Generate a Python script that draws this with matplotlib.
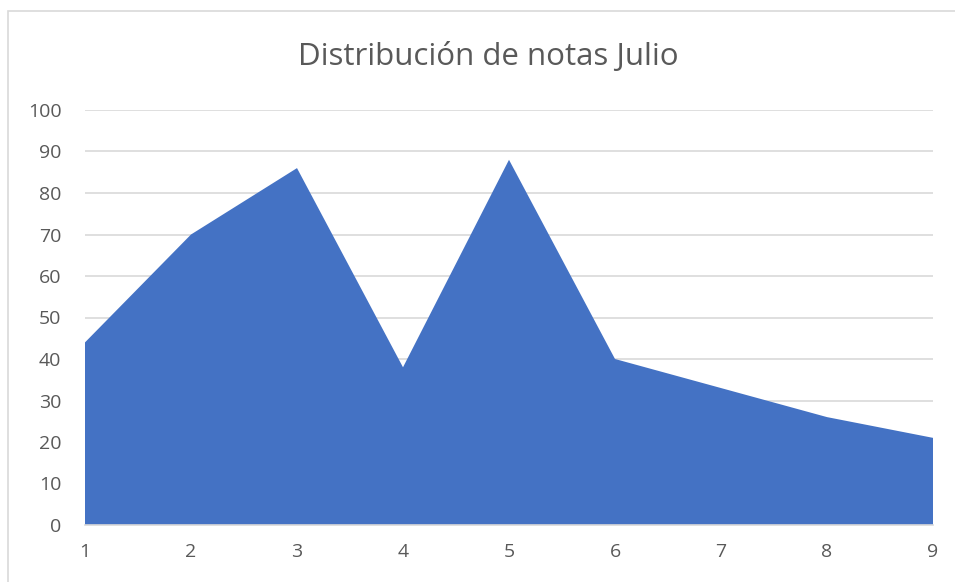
import numpy as np
import matplotlib.pyplot as plt
import matplotlib
from matplotlib.patches import Rectangle

matplotlib.rcParams['font.family'] = ['Open Sans', 'DejaVu Sans']

# datos de la gráfica
notas = [1, 2, 3, 4, 5, 6, 7, 8, 9]
cantidad = [44, 70, 86, 38, 88, 40, 33, 26, 21]
y_ticks = [0, 10, 20, 30, 40, 50, 60, 70, 80, 90, 100]

azul = '#4472C4'
gris_texto = '#595959'
gris_linea = '#D9D9D9'

fig = plt.figure(figsize=(9.55, 5.82), dpi=100, facecolor='white')
ax = fig.add_axes([85/955, 1-525/582, (933-85)/955, (525-110)/582])

ax.fill_between(notas, cantidad, 0, facecolor=azul, linewidth=0, zorder=2)

ax.set_xlim(notas[0], notas[-1])
ax.set_ylim(0, 100)
ax.set_xticks(notas)
ax.set_yticks(y_ticks)
ax.grid(axis='y', color=gris_linea, linewidth=1.2, zorder=0)
ax.tick_params(length=0, labelsize=14, labelcolor=gris_texto)
ax.tick_params(axis='x', pad=13)
ax.tick_params(axis='y', pad=17)
for s in ['top', 'right', 'left']:
    ax.spines[s].set_visible(False)
ax.spines['bottom'].set_color(gris_linea)
ax.spines['bottom'].set_linewidth(1.2)

fig.text(488/955, 1-57/582, 'Distribución de notas Julio', ha='center', va='center',
         fontsize=22.5, color=gris_texto)

# marco del gráfico
fig.patches.append(Rectangle((8/955, -0.05), 1.0, 1-11/582+0.05, transform=fig.transFigure,
                             fill=False, edgecolor=gris_linea, linewidth=1.2))

plt.savefig('out.png', dpi=100)
